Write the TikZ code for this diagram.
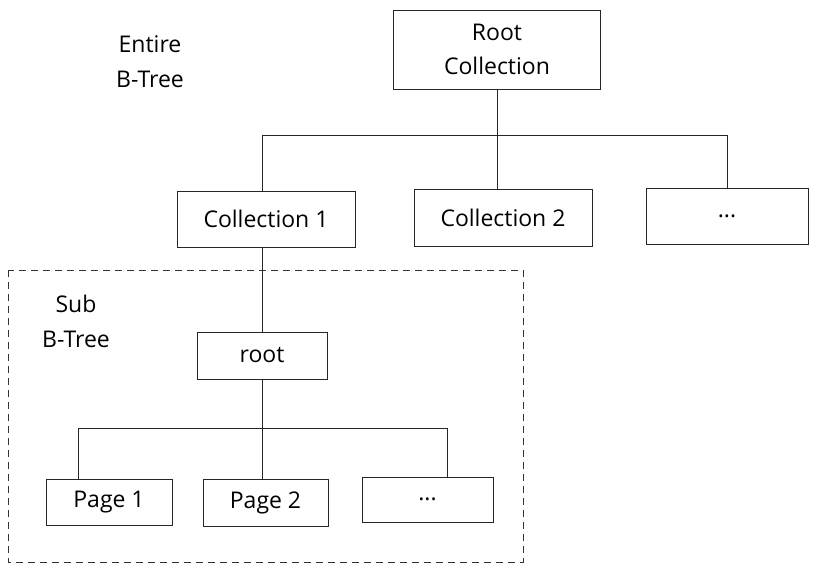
\documentclass[tikz,border=0pt]{standalone}
\usepackage{fontspec}
\setmainfont{Open Sans}
\usetikzlibrary{calc}
\tikzset{
	box/.style={draw=black!85, line width=0.9pt, fill=white, inner sep=0pt, font=\fontsize{23}{34}\selectfont},
	link/.style={draw=black!85, line width=0.9pt},
	note/.style={align=center, font=\fontsize{23}{35}\selectfont}
}

\begin{document}
\begin{tikzpicture}[x=1pt, y=-1pt]
			%%%%% START %%%%%
			\useasboundingbox (0, 0) rectangle (832, 571);
			
			\draw[black!80, line width=0.9pt, dash pattern=on 7pt off 5pt] (8, 270) rectangle (523, 562);
			
			\node[note] (entire) at (150, 62) {Entire\\B-Tree};
			\node[note] (sub) at (76, 321) {Sub\\B-Tree};
			
			\node[box, minimum width=207pt, minimum height=79pt, align=center] (rootcoll) at (497, 49.5) {Root\\Collection};
			
			\node[box, minimum width=178pt, minimum height=56pt] (coll1) at (266, 219) {Collection 1};
			\node[box, minimum width=178pt, minimum height=57pt] (coll2) at (503, 217.5) {Collection 2};
			\node[box, minimum width=162pt, minimum height=56pt] (colldots) at (727, 216) {...};
			
			\node[box, minimum width=130pt, minimum height=47pt] (root) at (262, 355.5) {root};
			
			\node[box, minimum width=126pt, minimum height=46pt] (page1) at (109, 502) {Page 1};
			\node[box, minimum width=125pt, minimum height=47pt] (page2) at (265.5, 502.5) {Page 2};
			\node[box, minimum width=131pt, minimum height=45pt] (pagedots) at (427.5, 499.5) {...};
			
			\coordinate (bus1) at ($(rootcoll.south) + (0, 46)$);
			\draw[link] (rootcoll.south) -- (rootcoll.south |- coll2.north);
			\draw[link] ($(coll1.north) + (-4, 0)$) |- (bus1) -| (colldots.north);
			
			\draw[link] ($(coll1.south) + (-4, 0)$) -- ($(coll1.south |- root.north) + (-4, 0)$);
			
			\coordinate (bus2) at ($(root.south) + (0, 49)$);
			\draw[link] (root.south) -- (root.south |- page2.north);
			\draw[link] ($(page1.north) + (-31, 0)$) |- (bus2) -| ($(pagedots.north) + (20, 0)$);
			
			%%%%% END %%%%%
		\end{tikzpicture}
\end{document}
